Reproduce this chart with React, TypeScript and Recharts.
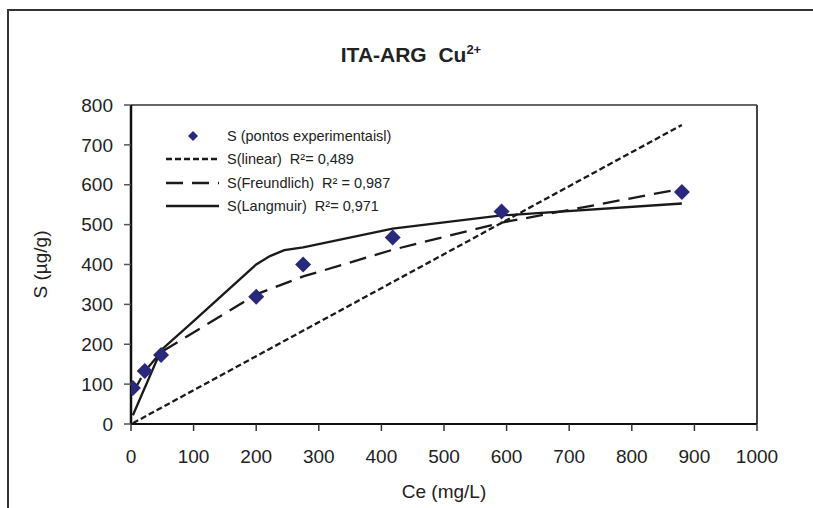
import React from 'react';
import { ComposedChart, Line, Scatter, XAxis, YAxis, ReferenceLine, Legend } from 'recharts';

const FONT = '"Liberation Sans", Arial, Helvetica, sans-serif';

// experimental points
const expCe = [3, 22, 48, 200, 275, 418, 592, 880];
const expS = [90, 133, 173, 319, 400, 468, 533, 582];

// fitted models
const linearCe = [3, 880];
const linearS = [2, 750];

const freundlichCe = [3, 22, 48, 200, 275, 418, 592, 880];
const freundlichS = [78, 132, 180, 325, 370, 437, 505, 590];

const langmuirCe = [3, 48, 100, 200, 222, 245, 275, 418, 592, 880];
const langmuirS = [22, 185, 258, 400, 421, 436, 443, 490, 523, 553];

const xTicks = [0, 100, 200, 300, 400, 500, 600, 700, 800, 900, 1000];
const yTicks = [0, 100, 200, 300, 400, 500, 600, 700, 800];

const legendItems = [
  { kind: 'point', label: 'S (pontos experimentaisl)' },
  { kind: 'line', dash: '6 3', label: 'S(linear)  R²= 0,489' },
  { kind: 'line', dash: '17 9', label: 'S(Freundlich)  R² = 0,987' },
  { kind: 'line', dash: undefined, label: 'S(Langmuir)  R²= 0,971' },
];

const toPoints = (xs: number[], ys: number[]) => xs.map((x, i) => ({ ce: x, s: ys[i] }));

const expData = toPoints(expCe, expS);
const linearData = toPoints(linearCe, linearS);
const freundlichData = toPoints(freundlichCe, freundlichS);
const langmuirData = toPoints(langmuirCe, langmuirS);

const POINT_COLOR = '#28297a';
const LINE_COLOR = '#1a1a1a';

const Diamond = (props: any) => {
  const { cx, cy } = props;
  const r = 8;
  return <path d={`M${cx},${cy - r}L${cx + r},${cy}L${cx},${cy + r}L${cx - r},${cy}Z`} fill={POINT_COLOR} />;
};

const LegendBox = () => (
  <div style={{ fontFamily: FONT, fontSize: 14.5, color: '#222' }}>
    {legendItems.map((item, i) => (
      <div key={i} style={{ display: 'flex', alignItems: 'center', height: 23.5 }}>
        <svg width={55} height={12} style={{ marginRight: 6 }}>
          {item.kind === 'point' ? (
            <path d="M27,1L32,6L27,11L22,6Z" fill={POINT_COLOR} />
          ) : (
            <line x1={0} y1={6} x2={53} y2={6} stroke={LINE_COLOR} strokeWidth={2.3} strokeDasharray={item.dash} />
          )}
        </svg>
        <span style={{ whiteSpace: 'pre' }}>{item.label}</span>
      </div>
    ))}
  </div>
);

export default function App() {
  return (
    <div style={{ position: 'absolute', left: 0, top: 0, width: 813, height: 508, overflow: 'hidden', background: '#fff' }}>
      <div
        style={{
          position: 'absolute', left: 7, top: 9, width: 900, height: 600,
          borderLeft: '2px solid #333', borderTop: '2px solid #333',
        }}
      />
      <div
        style={{
          position: 'absolute', left: 0, width: 822, top: 42, textAlign: 'center',
          fontFamily: FONT, fontWeight: 'bold', fontSize: 21, color: '#222', whiteSpace: 'pre',
        }}
      >
        {'ITA-ARG  Cu'}
        <sup style={{ fontSize: 13 }}>2+</sup>
      </div>
      <ComposedChart
        width={813}
        height={508}
        margin={{ top: 105, right: 56, bottom: 0, left: 0 }}
        style={{ position: 'absolute', left: 0, top: 0 }}
      >
        <XAxis
          dataKey="ce"
          type="number"
          domain={[0, 1000]}
          ticks={xTicks}
          height={84}
          allowDataOverflow
          axisLine={{ stroke: '#111', strokeWidth: 2 }}
          tickLine={{ stroke: '#333', strokeWidth: 1.5 }}
          tickSize={7}
          tickMargin={19}
          tick={{ fontFamily: FONT, fontSize: 19, fill: '#222' }}
          label={{ value: 'Ce (mg/L)', position: 'insideBottom', offset: 10, fontFamily: FONT, fontSize: 19, fill: '#222' }}
        />
        <YAxis
          dataKey="s"
          type="number"
          domain={[0, 800]}
          ticks={yTicks}
          width={131}
          allowDataOverflow
          axisLine={{ stroke: '#111', strokeWidth: 2.5 }}
          tickLine={{ stroke: '#555', strokeWidth: 1.5 }}
          tickSize={7}
          tickMargin={11}
          tick={{ fontFamily: FONT, fontSize: 19, fill: '#222' }}
          label={{
            content: (p: any) => {
              const vb = p.viewBox || { x: 0, y: 105, width: 131, height: 319 };
              const x = vb.x + 40;
              const y = vb.y + vb.height / 2;
              return (
                <text
                  x={x}
                  y={y}
                  transform={`rotate(-90 ${x} ${y})`}
                  textAnchor="middle"
                  dominantBaseline="central"
                  fontFamily={FONT}
                  fontSize={19}
                  fill="#222"
                >
                  S (µg/g)
                </text>
              );
            },
          }}
        />
        <ReferenceLine y={800} stroke="#666" strokeWidth={2} ifOverflow="extendDomain" />
        <ReferenceLine x={1000} stroke="#444" strokeWidth={2} ifOverflow="extendDomain" />
        <Line
          data={linearData}
          dataKey="s"
          type="linear"
          stroke={LINE_COLOR}
          strokeWidth={2.3}
          strokeDasharray="6 3"
          dot={false}
          activeDot={false}
          isAnimationActive={false}
        />
        <Line
          data={freundlichData}
          dataKey="s"
          type="linear"
          stroke={LINE_COLOR}
          strokeWidth={2.3}
          strokeDasharray="17 9"
          dot={false}
          activeDot={false}
          isAnimationActive={false}
        />
        <Line
          data={langmuirData}
          dataKey="s"
          type="linear"
          stroke={LINE_COLOR}
          strokeWidth={2.3}
          dot={false}
          activeDot={false}
          isAnimationActive={false}
        />
        <Scatter data={expData} dataKey="s" shape={Diamond} isAnimationActive={false} />
        <Legend
          layout="horizontal"
          verticalAlign="middle"
          align="center"
          content={() => <LegendBox />}
          wrapperStyle={{ left: 166, top: 124, width: 300, height: 96 }}
        />
      </ComposedChart>
    </div>
  );
}
